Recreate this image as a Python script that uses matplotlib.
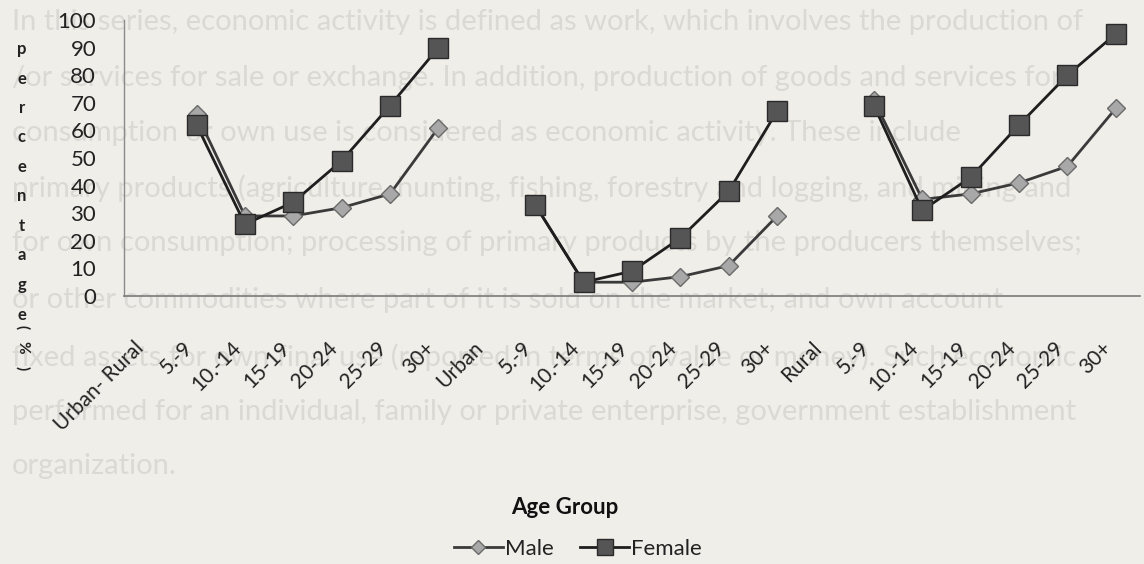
import numpy as np
import matplotlib
matplotlib.use('Agg')
import matplotlib.pyplot as plt

# categories along the x axis (group headers carry no values)
categories = ['Urban- Rural', '5.-9', '10.-14', '15-19', '20-24', '25-29', '30+',
              'Urban', '5.-9', '10.-14', '15-19', '20-24', '25-29', '30+',
              'Rural', '5.-9', '10.-14', '15-19', '20-24', '25-29', '30+']

# percentage economically active, by age group
male_urban_rural = [66, 29, 29, 32, 37, 61]
female_urban_rural = [62, 26, 34, 49, 69, 90]
male_urban = [33, 5, 5, 7, 11, 29]
female_urban = [33, 5, 9, 21, 38, 67]
male_rural = [71, 35, 37, 41, 47, 68]
female_rural = [69, 31, 43, 62, 80, 95]

y_ticks = [0, 10, 20, 30, 40, 50, 60, 70, 80, 90, 100]

# faint page text behind the chart (only the part visible on the page)
page_lines = [
    'In this series, economic activity is defined as work, which involves the production of',
    '/or services for sale or exchange. In addition, production of goods and services for',
    'consumption or own use is considered as economic activity. These include',
    'primary products (agriculture, hunting, fishing, forestry and logging, and mining and',
    'for own consumption; processing of primary products by the producers themselves;',
    'or other commodities where part of it is sold on the market; and own account',
    'fixed assets for own final use (reported in terms of value or money). Such economic',
    'performed for an individual, family or private enterprise, government establishment',
    'organization.',
]


def with_gaps(*groups):
    vals = []
    for g in groups:
        vals.append(np.nan)
        vals.extend(g)
    return np.array(vals, dtype=float)


male = with_gaps(male_urban_rural, male_urban, male_rural)
female = with_gaps(female_urban_rural, female_urban, female_rural)
x = np.arange(len(categories))

plt.rcParams['font.family'] = ['Lato', 'DejaVu Sans']
bg = '#efeee9'
fig = plt.figure(figsize=(11.44, 5.64), dpi=100, facecolor=bg)

line_y = [22, 78, 133, 188, 243, 300, 357, 412, 466]
for txt, yp in zip(page_lines, line_y):
    fig.text(12 / 1144, 1 - yp / 564, txt, fontsize=21, color='#dbd9d3',
             va='center', ha='left', zorder=-5)

ax = fig.add_axes([124 / 1144, 1 - 296 / 564, 1016 / 1144, 276 / 564])
ax.patch.set_facecolor('none')

ax.plot(x, male, color='#3a3a3a', lw=2, marker='D', ms=9,
        markerfacecolor='#a8a8a8', markeredgecolor='#6a6a6a', label='Male', zorder=3)
ax.plot(x, female, color='#1e1e1e', lw=2, marker='s', ms=14,
        markerfacecolor='#555555', markeredgecolor='#2a2a2a', label='Female', zorder=4)

ax.set_xlim(-0.5, len(categories) - 0.5)
ax.set_ylim(0, 100)
ax.set_yticks(y_ticks)
ax.set_yticklabels([str(v) for v in y_ticks], fontsize=16, color='#222222')
ax.set_xticks(x)
ax.set_xticklabels(categories, rotation=45, ha='right', fontsize=15, color='#222222')
ax.tick_params(axis='y', length=0, pad=20)
ax.tick_params(axis='x', length=0, pad=30)

for s in ['top', 'right']:
    ax.spines[s].set_visible(False)
ax.spines['left'].set_color('#8a8a8a')
ax.spines['bottom'].set_color('#7a7a7a')
ax.spines['left'].set_linewidth(1)
ax.spines['bottom'].set_linewidth(1.2)

# stacked y label
for i, ch in enumerate('percentage'):
    fig.text(22 / 1144, 1 - (49 + 29.5 * i) / 564, ch, fontsize=12, fontweight='bold',
             color='#222222', ha='center', va='center')
for ch, yp in zip('(%)', [327, 347, 368]):
    fig.text(22 / 1144, 1 - yp / 564, ch, fontsize=11, fontweight='bold',
             color='#222222', ha='center', va='center', rotation=-90)

fig.text(565 / 1144, 1 - 508 / 564, 'Age Group', fontsize=16, fontweight='bold',
         color='#111111', ha='center', va='center')

fig.legend(loc='center', bbox_to_anchor=(578 / 1144, 1 - 549 / 564), ncol=2,
           frameon=False, fontsize=16, handlelength=2.2, handletextpad=0.1,
           columnspacing=1.2, labelcolor='#222222', markerscale=0.8)

fig.savefig('out.png', dpi=100, facecolor=bg)
